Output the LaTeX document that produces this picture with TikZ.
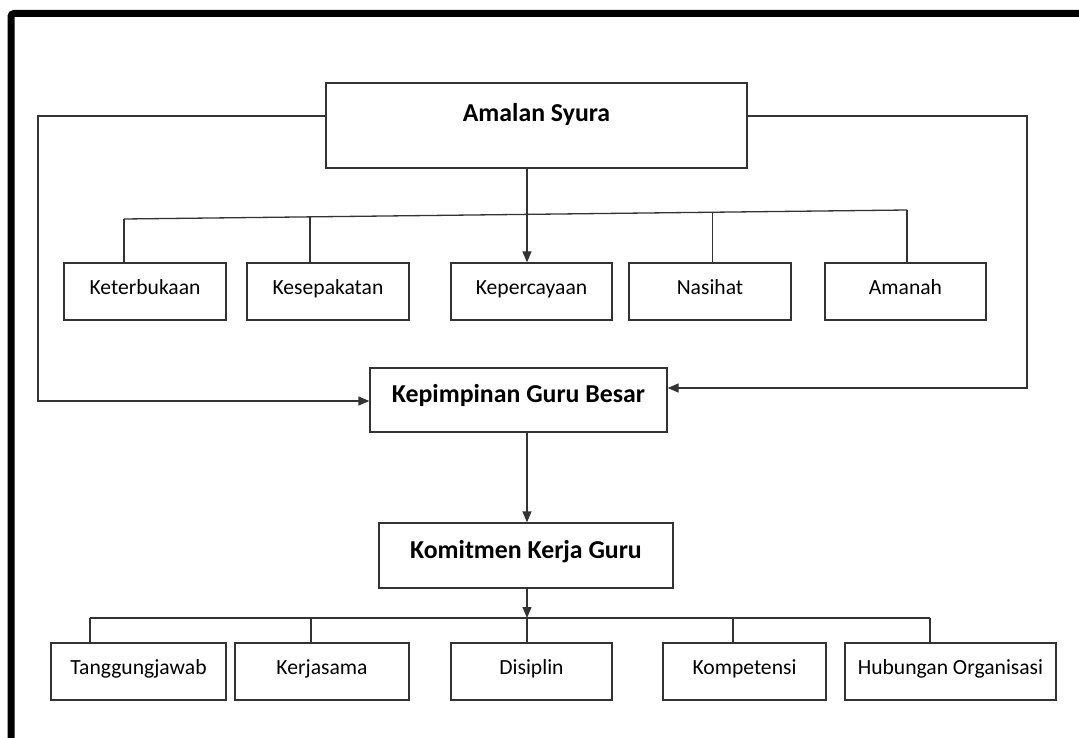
\documentclass[tikz,border=0pt]{standalone}
\usepackage{fontspec}
\setmainfont{Carlito}
\usepackage{tikz}
\usetikzlibrary{calc,arrows.meta}

\begin{document}
\begin{tikzpicture}[x=1pt,y=-1pt,
        kotak/.style={draw=black!80, line width=1.3pt, minimum height=57pt,
            text height=0.7em, text depth=0.15em, inner sep=0pt,
            font=\fontsize{21.6}{26}\selectfont},
        utama/.style={kotak, font=\bfseries\fontsize{25.8}{31}\selectfont},
        garis/.style={draw=black!80, line width=1.3pt},
        panah/.style={garis, -{Triangle[length=11pt,width=9pt]}}]
        \useasboundingbox (0,0) rectangle (1079,738);
        \clip (0,0) rectangle (1079,738);

        % bingkai luar
        \draw [line width=7pt, rounded corners=3pt] (11,760) -- (11,13.5) -- (1100,13.5);

        % kotak utama
        \node [utama, minimum width=421pt, minimum height=85pt, text depth=1.54em] (syura) at (536.5,125.5) {Amalan Syura};
        \node [utama, minimum width=297pt, minimum height=64pt] (kepimpinan) at (518.5,400) {Kepimpinan Guru Besar};
        \node [utama, minimum width=294pt, minimum height=65pt] (komitmen) at (526,555.5) {Komitmen Kerja Guru};

        % aspek syura
        \node [kotak, minimum width=162pt] (terbuka) at (145,291.5) {Keterbukaan};
        \node [kotak, minimum width=162pt] (sepakat) at (328,291.5) {Kesepakatan};
        \node [kotak, minimum width=161pt] (percaya) at (531.5,291.5) {Kepercayaan};
        \node [kotak, minimum width=162pt] (nasihat) at (710,291.5) {Nasihat};
        \node [kotak, minimum width=161pt] (amanah) at (905.5,291.5) {Amanah};

        % aspek komitmen
        \node [kotak, minimum width=175pt] (tanggung) at (138.5,671.5) {Tanggungjawab};
        \node [kotak, minimum width=174pt] (kerjasama) at (322,671.5) {Kerjasama};
        \node [kotak, minimum width=161pt] (disiplin) at (531.5,671.5) {Disiplin};
        \node [kotak, minimum width=163pt] (kompetensi) at (744.5,671.5) {Kompetensi};
        \node [kotak, minimum width=211pt] (hubungan) at (950.5,671.5) {Hubungan Organisasi};

        % laluan kiri dan kanan
        \coordinate (kiriA) at (38,116);
        \coordinate (kiriB) at (38,401);
        \coordinate (kananA) at (1027,116);
        \coordinate (kananB) at (1027,388);
        \draw [panah] (syura.west |- kiriA) -- (kiriA) -- (kiriB) -- (kepimpinan.west |- kiriB);
        \draw [panah] (syura.east |- kananA) -- (kananA) -- (kananB) -- (kepimpinan.east |- kananB);

        % cabang atas
        \coordinate (tengah) at (527,0);
        \coordinate (busL) at (124,219);
        \coordinate (busR) at (907,210);
        \draw [garis] (busL) -- (busR);
        \draw [garis] (busL) -- (busL |- terbuka.north);
        \draw [garis] ($(busL)!0.2375!(busR)$) coordinate (t) -- (t |- sepakat.north);
        \draw [garis] ($(busL)!0.752!(busR)$) coordinate (t) -- (t |- nasihat.north);
        \draw [garis] (busR) -- (busR |- amanah.north);
        \draw [panah] (syura.south -| tengah) -- (percaya.north -| tengah);

        % aliran tengah
        \draw [panah] (kepimpinan.south -| tengah) -- (komitmen.north -| tengah);

        % cabang bawah
        \coordinate (busB) at (527,618);
        \draw [panah] (komitmen.south -| tengah) -- (busB);
        \draw [garis] (busB) -- (busB |- disiplin.north);
        \draw [garis] (90,618) -- (930,618);
        \foreach \n/\x in {tanggung/90, kerjasama/311, kompetensi/733, hubungan/930}
            \draw [garis] (\x,618) coordinate (t) -- (t |- \n.north);
\end{tikzpicture}
\end{document}
